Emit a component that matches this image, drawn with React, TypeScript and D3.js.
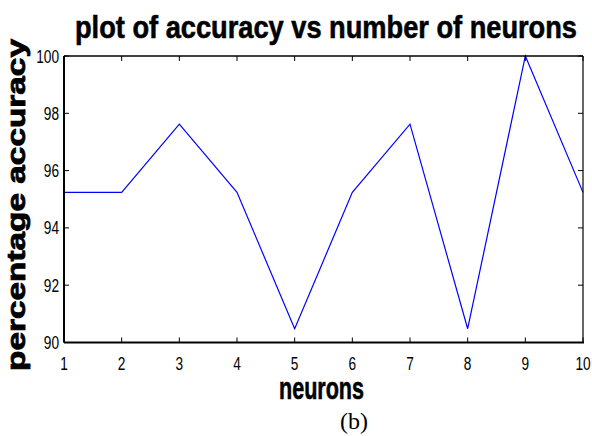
import React from "react";
import * as d3 from "d3";

// accuracy (%) recorded for each hidden-layer size
const neurons: number[] = [1, 2, 3, 4, 5, 6, 7, 8, 9, 10];
const accuracy: number[] = [95.24, 95.24, 97.62, 95.24, 90.48, 95.24, 97.62, 90.48, 100, 95.24];
const xTicks: number[] = [1, 2, 3, 4, 5, 6, 7, 8, 9, 10];
const yTicks: number[] = [90, 92, 94, 96, 98, 100];

const W = 592;
const H = 436;
const plot = { left: 64, right: 583, top: 56, bottom: 342.5 };

export default function App() {
  const x = d3.scaleLinear().domain([1, 10]).range([plot.left, plot.right]);
  const y = d3.scaleLinear().domain([90, 100]).range([plot.bottom, plot.top]);
  const line = d3
    .line<number>()
    .x((_, i) => x(neurons[i]))
    .y((d) => y(d));

  const tickLen = 5;
  const labelFont = "'Liberation Sans', Arial, sans-serif";

  return (
    <svg
      width={W}
      height={H}
      viewBox={`0 0 ${W} ${H}`}
      style={{ position: "absolute", left: 0, top: 0, background: "#fff" }}
    >
      <rect x={0} y={0} width={W} height={H} fill="#fff" />

      {/* title */}
      <text
        x={(75 + 577) / 2}
        y={38}
        textAnchor="middle"
        fontFamily={labelFont}
        fontWeight="bold"
        fontSize={32}
        textLength={502}
        lengthAdjust="spacingAndGlyphs"
        stroke="#000"
        strokeWidth={0.6}
        fill="#000"
      >
        plot of accuracy vs number of neurons
      </text>

      {/* data line */}
      <path d={line(accuracy) ?? ""} fill="none" stroke="#0000ff" strokeWidth={1.2} />

      {/* frame */}
      <line x1={plot.left} x2={plot.right} y1={plot.top} y2={plot.top} stroke="#000" strokeWidth={1.5} />
      <line x1={plot.right} x2={plot.right} y1={plot.top} y2={plot.bottom} stroke="#000" strokeWidth={1.2} />
      <line x1={plot.left} x2={plot.right + 1} y1={plot.bottom} y2={plot.bottom} stroke="#000" strokeWidth={2} />
      <line x1={plot.left} x2={plot.left} y1={plot.top} y2={plot.bottom} stroke="#000" strokeWidth={2} />

      {/* x ticks (bottom and top, inward) */}
      {xTicks.map((t) => (
        <g key={`xt${t}`}>
          <line x1={x(t)} x2={x(t)} y1={plot.bottom} y2={plot.bottom - tickLen} stroke="#000" strokeWidth={1} />
          <line x1={x(t)} x2={x(t)} y1={plot.top} y2={plot.top + tickLen} stroke="#000" strokeWidth={1} />
          <g transform={`translate(${x(t)},${370}) scale(0.74,1)`}>
            <text textAnchor="middle" fontFamily={labelFont} fontSize={18.5} fill="#000">
              {t}
            </text>
          </g>
        </g>
      ))}

      {/* y ticks (left and right, inward) */}
      {yTicks.map((t) => (
        <g key={`yt${t}`}>
          <line x1={plot.left} x2={plot.left + tickLen} y1={y(t)} y2={y(t)} stroke="#000" strokeWidth={1} />
          <line x1={plot.right} x2={plot.right - tickLen} y1={y(t)} y2={y(t)} stroke="#000" strokeWidth={1} />
          <g transform={`translate(${59},${y(t) + 6.5}) scale(0.74,1)`}>
            <text textAnchor="end" fontFamily={labelFont} fontSize={18.5} fill="#000">
              {t}
            </text>
          </g>
        </g>
      ))}

      {/* axis labels */}
      <text
        x={321.5}
        y={399}
        textAnchor="middle"
        fontFamily={labelFont}
        fontWeight="bold"
        fontSize={32}
        textLength={85}
        lengthAdjust="spacingAndGlyphs"
        stroke="#000"
        strokeWidth={0.6}
        fill="#000"
      >
        neurons
      </text>
      <text
        transform={`translate(25,${205}) rotate(-90)`}
        textAnchor="middle"
        fontFamily={labelFont}
        fontWeight="bold"
        fontSize={25}
        textLength={332}
        lengthAdjust="spacingAndGlyphs"
        stroke="#000"
        strokeWidth={0.8}
        fill="#000"
      >
        percentage accuracy
      </text>

      {/* panel caption */}
      <text
        x={354}
        y={429}
        textAnchor="middle"
        fontFamily="'Liberation Serif', 'Times New Roman', serif"
        fontSize={24}
        fill="#000"
      >
        (b)
      </text>
    </svg>
  );
}
